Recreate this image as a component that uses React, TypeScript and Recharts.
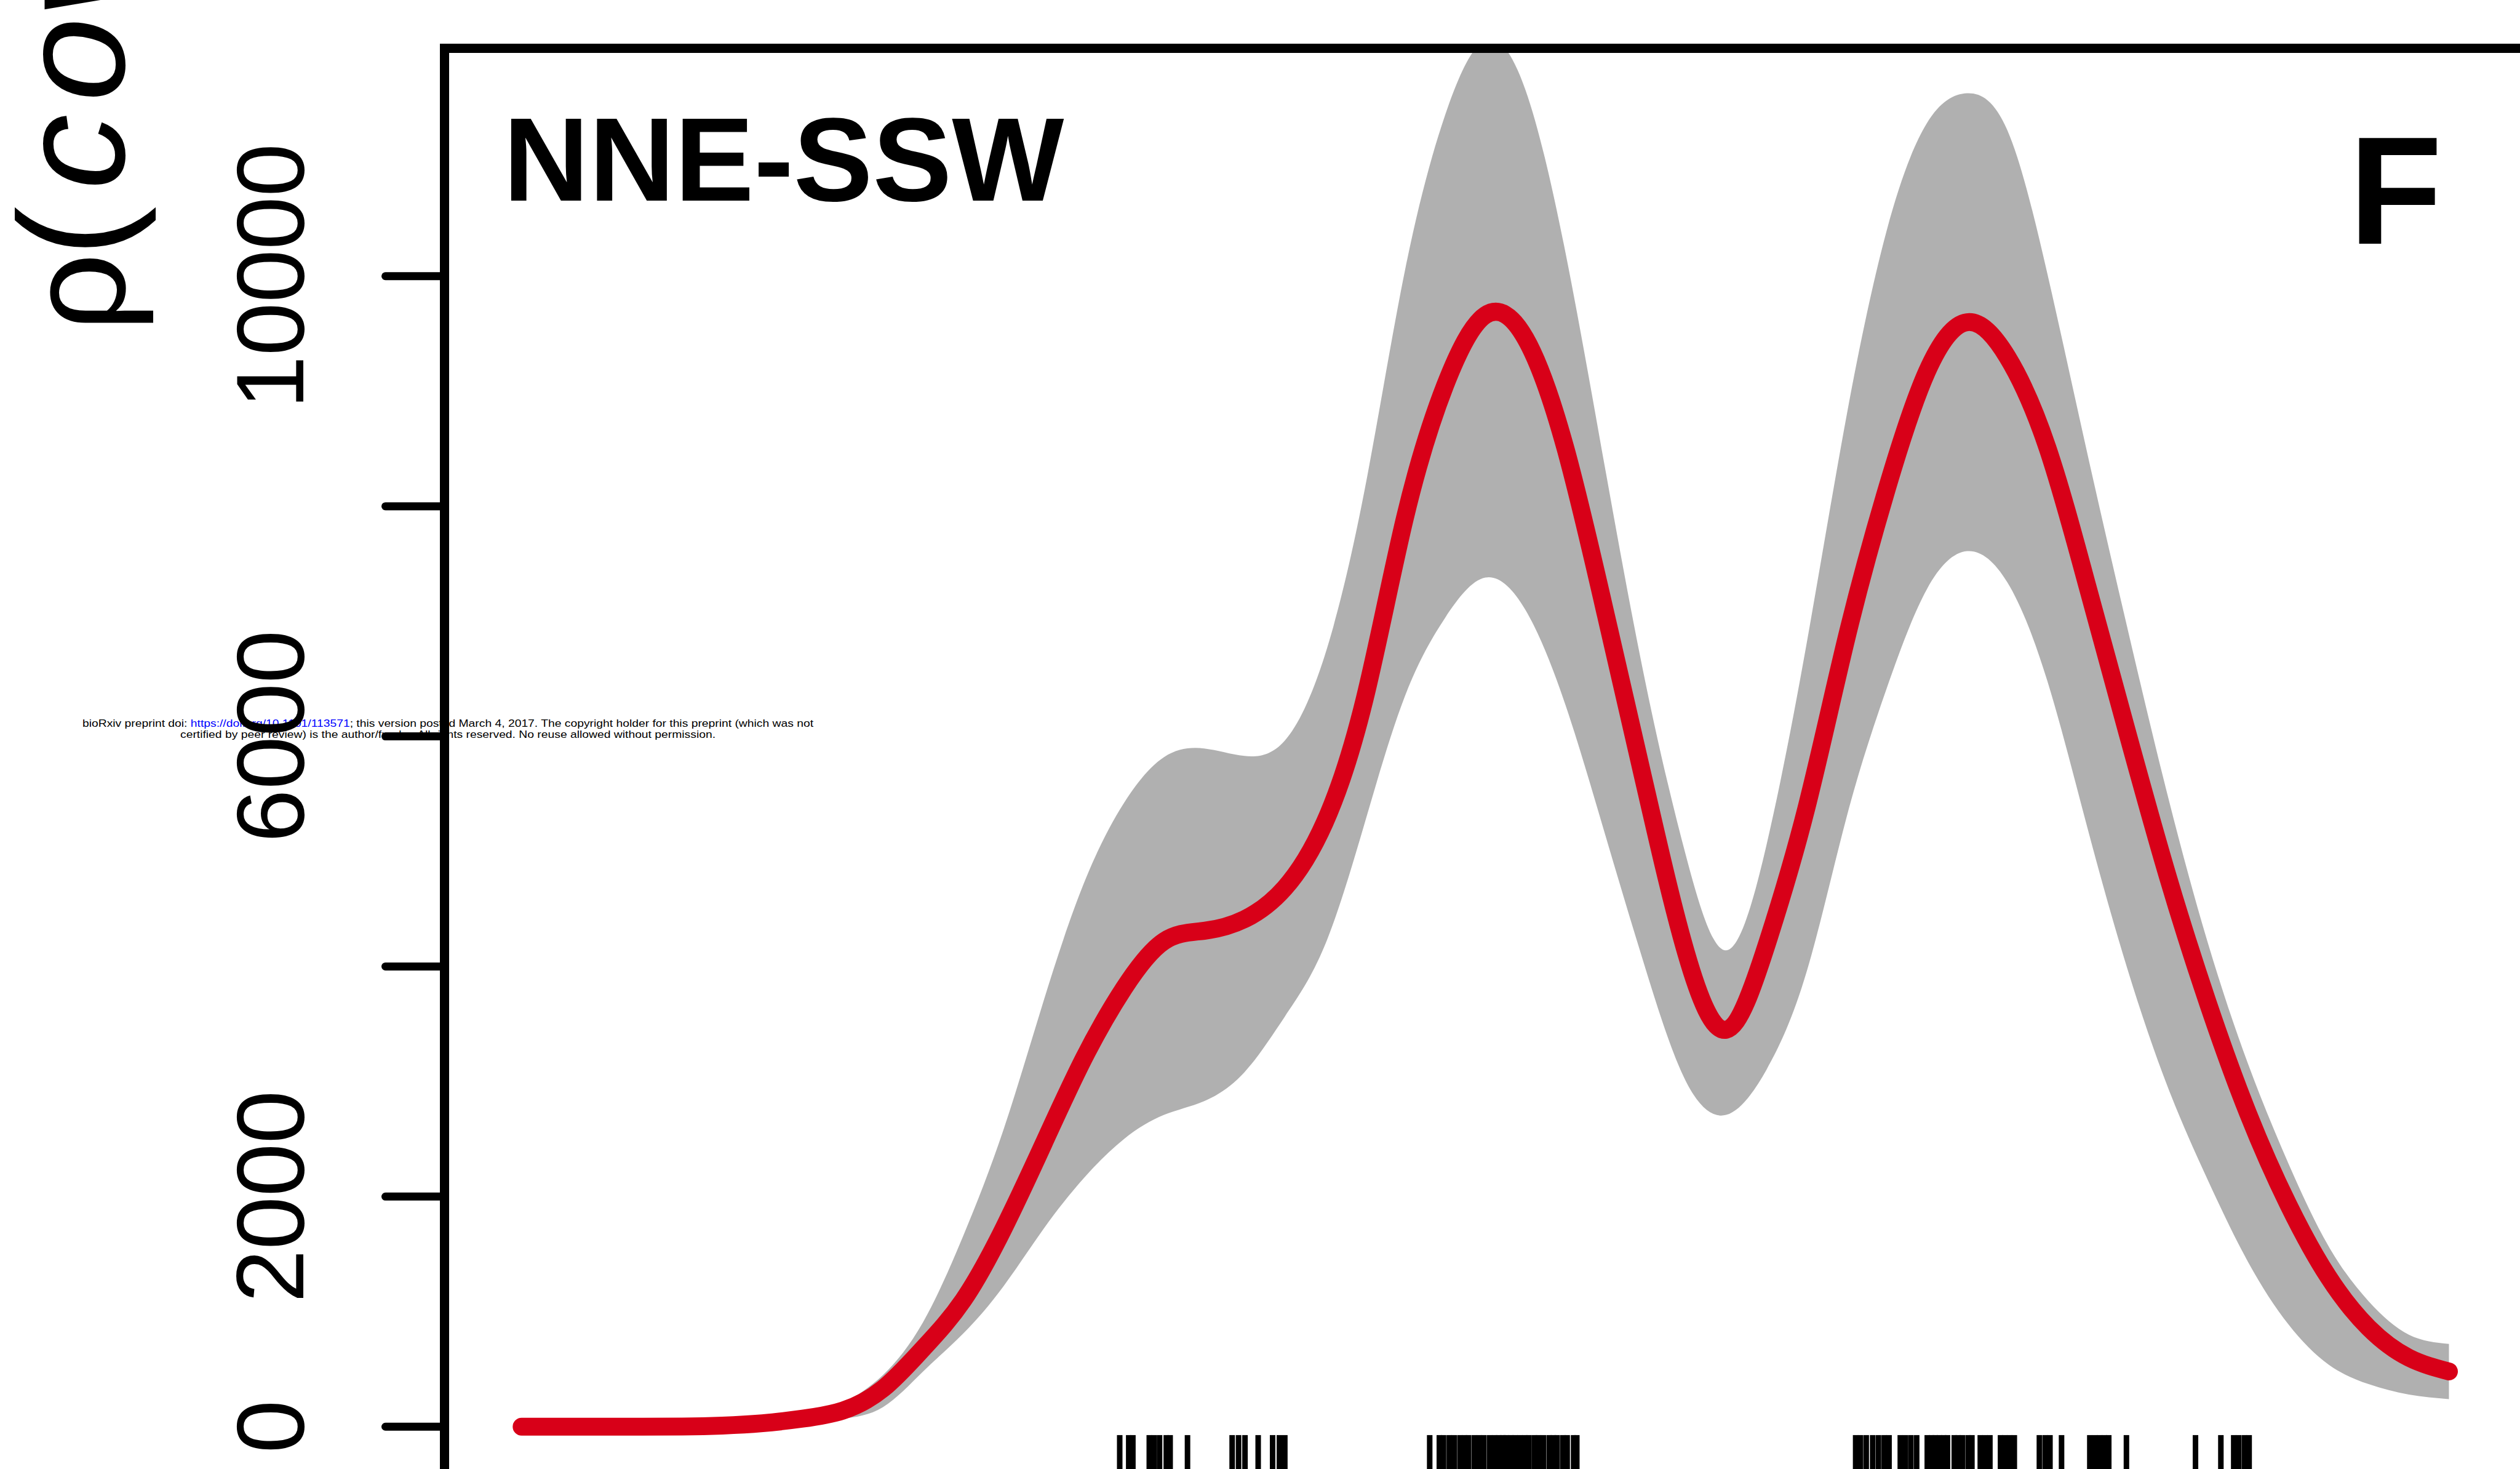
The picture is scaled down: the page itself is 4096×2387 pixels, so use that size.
import React from 'react';
import { ComposedChart, Area, Line, XAxis, YAxis, ReferenceLine } from 'recharts';

const FONT = '"Liberation Sans", Arial, Helvetica, sans-serif';
const RED = '#d80018';
const BAND = '#b0b0b0';

// positions along the orientation axis (axis units 0..6)
const xValues = [
  0, 0.125, 0.25, 0.375, 0.5, 0.625, 0.75, 0.875,
  1, 1.125, 1.25, 1.375, 1.5, 1.625, 1.75, 1.875,
  2, 2.125, 2.25, 2.375, 2.5, 2.625, 2.75, 2.875,
  3, 3.125, 3.25, 3.375, 3.5, 3.625, 3.75, 3.875,
  4, 4.125, 4.25, 4.375, 4.5, 4.625, 4.75, 4.875,
  5, 5.125, 5.25, 5.375, 5.5, 5.625, 5.75, 5.875, 6,
];

const meanDensity = [
  0, 0, 0, 0, 2, 10, 30, 70,
  140, 330, 680, 1100, 1720, 2460, 3200, 3810,
  4220, 4310, 4410, 4680, 5250, 6330, 7900, 9050,
  9660, 9460, 8500, 7060, 5540, 4120, 3450, 4180,
  5380, 6860, 8150, 9170, 9600, 9300, 8510, 7300,
  6020, 4780, 3680, 2720, 1930, 1300, 860, 600, 480,
];

const upperBound = [
  0, 0, 0, 0, 3, 15, 45, 100,
  210, 450, 910, 1660, 2580, 3700, 4720, 5420,
  5820, 5895, 5830, 5960, 6700, 8150, 10050, 11400,
  12050, 11620, 10200, 8300, 6450, 4960, 4140, 5050,
  6800, 8790, 10400, 11330, 11590, 11270, 10020, 8450,
  6930, 5480, 4200, 3150, 2290, 1570, 1090, 800, 720,
];

const lowerBound = [
  0, 0, 0, 0, 1, 5, 15, 35,
  70, 170, 480, 810, 1220, 1720, 2160, 2500,
  2710, 2830, 3080, 3560, 4180, 5250, 6350, 7030,
  7380, 7100, 6270, 5130, 3970, 3000, 2710, 3100,
  3950, 5300, 6420, 7280, 7610, 7340, 6480, 5200,
  3970, 2950, 2140, 1430, 890, 540, 370, 280, 240,
];

// observation positions drawn as a rug along the bottom
const rugPositions = [
  1.862, 1.89, 1.903, 1.954, 1.969, 1.986, 2.007, 2.019, 2.073,
  2.212, 2.232, 2.252, 2.293, 2.338, 2.359, 2.376,
  2.827, 2.857, 2.87, 2.888, 2.903, 2.921, 2.936, 2.948, 2.966, 2.981,
  2.996, 3.014, 3.029, 3.042, 3.055, 3.065, 3.08, 3.093, 3.108, 3.123,
  3.136, 3.153, 3.166, 3.181, 3.199, 3.212, 3.224, 3.242, 3.255, 3.275, 3.285,
  4.153, 4.168, 4.186, 4.206, 4.224, 4.242, 4.257, 4.292, 4.308, 4.325,
  4.343, 4.376, 4.389, 4.401, 4.414, 4.427, 4.439, 4.46, 4.472, 4.485,
  4.503, 4.515, 4.541, 4.556, 4.571, 4.604, 4.617, 4.632, 4.647,
  4.725, 4.743, 4.758, 4.794,
  4.882, 4.898, 4.913, 4.928, 4.941, 4.996,
  5.211, 5.29, 5.33, 5.345, 5.363, 5.378,
];

const xTicks = [0, 1, 2, 3, 4, 5, 6];
const yTicks = [0, 2000, 4000, 6000, 8000, 10000];
// labels that fit without colliding; the others keep only their tick mark
const yLabelled = [0, 2000, 6000, 10000];

const Y_MIN = -464;
const Y_MAX = 11981;
const RUG_TOP = -73;

const data = xValues.map((x, i) => ({
  x,
  mean: meanDensity[i],
  band: [lowerBound[i], upperBound[i]],
}));

// y tick labels are written sideways, reading bottom to top
function SidewaysTick(props: any) {
  const { x, y, payload } = props;
  if (!yLabelled.includes(payload.value)) return <g />;
  return (
    <text
      x={x}
      y={y}
      transform={`rotate(-90, ${x}, ${y})`}
      textAnchor="middle"
      fontFamily={FONT}
      fontSize={155}
      fill="#000"
    >
      {payload.value}
    </text>
  );
}

export default function App() {
  return (
    <div
      style={{
        position: 'absolute',
        left: 0,
        top: 0,
        width: 4096,
        height: 2387,
        overflow: 'hidden',
        background: '#fff',
      }}
    >
      {/* preprint stamp sits underneath the figure */}
      <svg width={4096} height={2387} style={{ position: 'absolute', left: 0, top: 0 }}>
        <text
          x={728}
          y={1181}
          textAnchor="middle"
          fontFamily={FONT}
          fontSize={17}
          fill="#000"
          textLength={1188}
          lengthAdjust="spacingAndGlyphs"
        >
          bioRxiv preprint doi: <tspan fill="#0000ff">https://doi.org/10.1101/113571</tspan>; this version posted March 4, 2017. The copyright holder for this preprint (which was not
        </text>
        <text
          x={728}
          y={1199}
          textAnchor="middle"
          fontFamily={FONT}
          fontSize={17}
          fill="#000"
          textLength={870}
          lengthAdjust="spacingAndGlyphs"
        >
          certified by peer review) is the author/funder. All rights reserved. No reuse allowed without permission.
        </text>
      </svg>

      <div style={{ position: 'absolute', left: 0, top: 0 }}>
        <ComposedChart
          width={4110}
          height={2405}
          data={data}
          margin={{ top: 0, right: 4.2, bottom: 0, left: 0 }}
        >
          <XAxis
            dataKey="x"
            type="number"
            orientation="top"
            domain={[-0.24, 6.24]}
            allowDataOverflow
            ticks={xTicks}
            interval={0}
            height={78.4}
            tick={false}
            tickSize={78.4}
            stroke="#000"
            axisLine={{ stroke: '#000', strokeWidth: 15, strokeLinecap: 'square' }}
            tickLine={{ stroke: '#000', strokeWidth: 11, strokeDasharray: '20 400' }}
          />
          <YAxis
            type="number"
            domain={[Y_MIN, Y_MAX]}
            allowDataOverflow
            ticks={yTicks}
            interval={0}
            width={722.5}
            tickSize={96}
            tickMargin={133.5}
            stroke="#000"
            axisLine={{ stroke: '#000', strokeWidth: 15, strokeLinecap: 'square' }}
            tickLine={{ stroke: '#000', strokeWidth: 13, strokeLinecap: 'round' }}
            tick={<SidewaysTick />}
          />
          <Area
            dataKey="band"
            type="natural"
            stroke="none"
            fill={BAND}
            fillOpacity={1}
            isAnimationActive={false}
          />
          <Line
            dataKey="mean"
            type="natural"
            stroke={RED}
            strokeWidth={29}
            strokeLinecap="round"
            strokeLinejoin="round"
            dot={false}
            activeDot={false}
            isAnimationActive={false}
          />
          {rugPositions.map((p, i) => (
            <ReferenceLine
              key={`rug-${i}`}
              segment={[{ x: p, y: Y_MIN }, { x: p, y: RUG_TOP }]}
              stroke="#000"
              strokeWidth={9}
              ifOverflow="visible"
            />
          ))}
        </ComposedChart>
      </div>

      {/* panel annotations */}
      <svg
        width={4096}
        height={2387}
        style={{ position: 'absolute', left: 0, top: 0, pointerEvents: 'none' }}
      >
        <text x={818} y={326} fontFamily={FONT} fontWeight="bold" fontSize={193} fill="#000">
          NNE-SSW
        </text>
        <text x={3818} y={396} fontFamily={FONT} fontWeight="bold" fontSize={248} fill="#000">
          F
        </text>
        <text
          transform="translate(202, 545) rotate(-90)"
          fontFamily={FONT}
          fontSize={245}
          fill="#000"
        >
          <tspan x={6} fontSize={225}>ρ</tspan>
          <tspan x={128}>(</tspan>
          <tspan x={237} fontStyle="italic">c</tspan>
          <tspan x={380} fontStyle="italic">over)</tspan>
        </text>
      </svg>
    </div>
  );
}
